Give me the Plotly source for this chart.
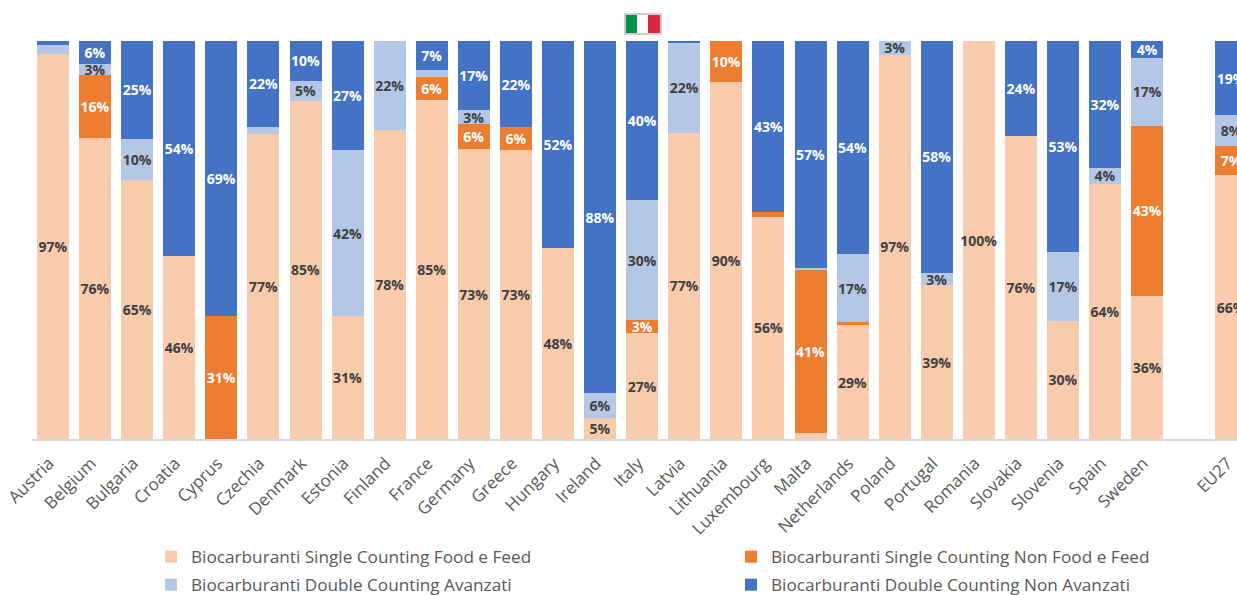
import plotly.graph_objects as go

categories = ["Austria","Belgium","Bulgaria","Croatia","Cyprus","Czechia","Denmark","Estonia","Finland","France",
              "Germany","Greece","Hungary","Ireland","Italy","Latvia","Lithuania","Luxembourg","Malta","Netherlands",
              "Poland","Portugal","Romania","Slovakia","Slovenia","Spain","Sweden","EU27"]
positions = list(range(27)) + [28]

food    = [96.7,75.6,65,46,0,76.6,85,30.8,77.6,85.2,72.8,72.6,48,5.4,26.6,77,89.7,55.8,1.5,28.6,96.6,38.6,100,76.2,29.7,64,36,66.3]
nonfood = [0,15.8,0,0,31,0,0,0,0,5.8,6.4,5.7,0,0,3.2,0,10.3,1.2,41,0.8,0,0,0,0,0,0,42.7,7.3]
adv     = [2.3,2.8,10.4,0,0,1.8,5,41.8,22.4,1.7,3.4,0,0,6.1,30.2,22.5,0,0,0.5,17,3.4,3.2,0,0,17.3,4.2,17,7.7]
nonadv  = [1,5.8,24.6,54,69,21.6,10,27.4,0,7.3,17.4,21.7,52,88.5,40,0.5,0,43,57,53.6,0,58.2,0,23.8,53,31.8,4.3,18.7]

names = ["Biocarburanti Single Counting Food e Feed","Biocarburanti Single Counting Non Food e Feed",
         "Biocarburanti Double Counting Avanzati","Biocarburanti Double Counting Non Avanzati"]
colors = ["#F8CBAD","#ED7D31","#B4C7E7","#4472C4"]
label_colors = ["#404040","#FFFFFF","#404040","#FFFFFF"]
series = [food, nonfood, adv, nonadv]

W, H = 1237, 595
L, T, B = 32, 41, 156
FONT = "Open Sans"
px = lambda x: (x - L) / (W - L)
py = lambda y: 1 - (y - T) / (H - T - B)

# legend anchors in page pixels: (left, centre y)
legend_pos = [(151, 557), (731, 557), (151, 585), (731, 585)]

fig = go.Figure()
for i, (name, vals) in enumerate(zip(names, series)):
    fig.add_trace(go.Bar(
        x=positions, y=vals, name=name, marker=dict(color=colors[i], line=dict(width=0)),
        text=[f"{round(v)}%" if v >= 2.5 else "" for v in vals],
        textposition="inside", insidetextanchor="middle", textangle=0, constraintext="none",
        textfont=dict(family=FONT, size=14, color=label_colors[i], weight="bold"),
        legend="legend" if i == 0 else f"legend{i+1}", showlegend=True, hoverinfo="x+y",
    ))

legends = {}
for i, (lx, ly) in enumerate(legend_pos):
    legends["legend" if i == 0 else f"legend{i+1}"] = dict(
        x=lx / W, y=1 - ly / H, xref="container", yref="container", xanchor="left", yanchor="middle",
        font=dict(family=FONT, size=17.2, color="#595959"), bgcolor="rgba(0,0,0,0)",
        borderwidth=0, itemclick=False, itemdoubleclick=False)

shapes = []
def rect(x0, y0, x1, y1, fill, line=None):
    shapes.append(dict(type="rect", xref="paper", yref="paper", x0=px(x0), x1=px(x1), y0=py(y0), y1=py(y1),
                       fillcolor=fill, line=dict(width=1.5 if line else 0, color=line or fill), layer="above"))
rect(625, 14, 661, 34, "#FFFFFF", "#BFBFBF")
rect(626, 15, 637, 33, "#009246")
rect(637, 15, 648, 33, "#FFFFFF")
rect(648, 15, 660, 33, "#D52B3A")

fig.update_layout(
    width=W, height=H, barmode="stack", bargap=0.24,
    margin=dict(l=L, r=0, t=T, b=B, pad=0, autoexpand=False),
    paper_bgcolor="#FFFFFF", plot_bgcolor="#FFFFFF",
    font=dict(family=FONT, color="#595959"),
    xaxis=dict(range=[-0.5, 28.135], tickmode="array", tickvals=positions, ticktext=categories, tickangle=-45,
               tickfont=dict(family=FONT, size=17, color="#595959"), ticks="", showgrid=False, zeroline=False,
               ticklabelstandoff=6, ticklabelshift=-4,
               showline=True, linecolor="#D9D9D9", linewidth=1.5, fixedrange=True),
    yaxis=dict(range=[0, 100], visible=False, fixedrange=True),
    shapes=shapes, **legends,
)

fig.write_html("out.html", config={"displayModeBar": False},
               post_script="document.body.style.margin='0';document.body.style.overflow='hidden';")
